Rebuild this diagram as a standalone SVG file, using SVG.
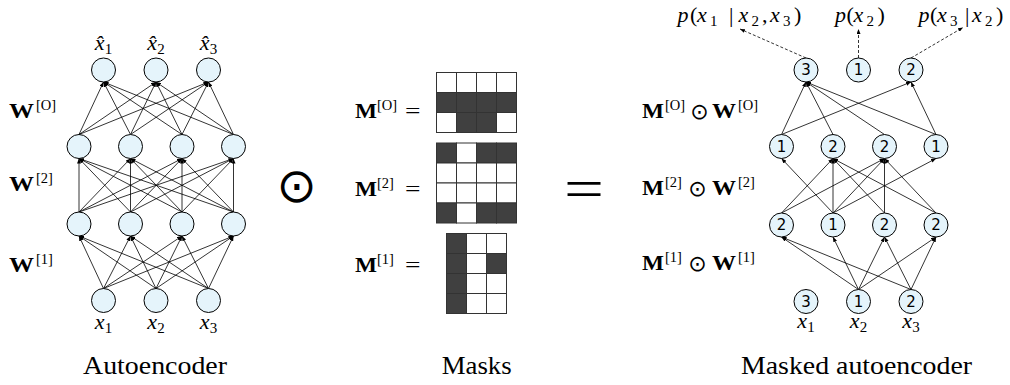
<svg xmlns="http://www.w3.org/2000/svg" width="1010" height="385" viewBox="0 0 1010 385">
<style>
.n{fill:#e5f4fb;stroke:#000;stroke-width:1}
.e{stroke:#000;stroke-width:0.8;fill:none;marker-end:url(#ah)}
.d{stroke:#000;stroke-width:0.8;stroke-dasharray:3 2;fill:none;marker-end:url(#ah)}
.t{font-family:"Liberation Serif","Times New Roman",serif;fill:#000}
.i{font-style:italic}
.b{font-weight:bold}
.num{font-family:"DejaVu Sans",sans-serif;font-size:15px;text-anchor:middle;dominant-baseline:central;fill:#000}
.w{fill:#fff;stroke:#333;stroke-width:1}
.k{fill:#404040;stroke:#333;stroke-width:1}
.op{font-family:"DejaVu Sans",sans-serif;text-anchor:middle;fill:#000}
</style>
<defs>
<marker id="ah" viewBox="0 0 10 8" refX="10" refY="4" markerWidth="5" markerHeight="4" orient="auto" markerUnits="userSpaceOnUse"><path d="M0,0 L10,4 L0,8 z" fill="#000"/></marker>
</defs>

<!-- Connectors -->
<g id="connectors">
<!-- left: input -> hidden1 -->
<line class="e" x1="103.5" y1="288.5" x2="79" y2="236"/>
<line class="e" x1="103.5" y1="288.5" x2="130.5" y2="236"/>
<line class="e" x1="103.5" y1="288.5" x2="182" y2="236"/>
<line class="e" x1="103.5" y1="288.5" x2="233.5" y2="236"/>
<line class="e" x1="156" y1="288.5" x2="79" y2="236"/>
<line class="e" x1="156" y1="288.5" x2="130.5" y2="236"/>
<line class="e" x1="156" y1="288.5" x2="182" y2="236"/>
<line class="e" x1="156" y1="288.5" x2="233.5" y2="236"/>
<line class="e" x1="208.5" y1="288.5" x2="79" y2="236"/>
<line class="e" x1="208.5" y1="288.5" x2="130.5" y2="236"/>
<line class="e" x1="208.5" y1="288.5" x2="182" y2="236"/>
<line class="e" x1="208.5" y1="288.5" x2="233.5" y2="236"/>
<!-- left: hidden1 -> hidden2 -->
<line class="e" x1="79" y1="212" x2="79" y2="158.5"/>
<line class="e" x1="79" y1="212" x2="130.5" y2="158.5"/>
<line class="e" x1="79" y1="212" x2="182" y2="158.5"/>
<line class="e" x1="79" y1="212" x2="233.5" y2="158.5"/>
<line class="e" x1="130.5" y1="212" x2="79" y2="158.5"/>
<line class="e" x1="130.5" y1="212" x2="130.5" y2="158.5"/>
<line class="e" x1="130.5" y1="212" x2="182" y2="158.5"/>
<line class="e" x1="130.5" y1="212" x2="233.5" y2="158.5"/>
<line class="e" x1="182" y1="212" x2="79" y2="158.5"/>
<line class="e" x1="182" y1="212" x2="130.5" y2="158.5"/>
<line class="e" x1="182" y1="212" x2="182" y2="158.5"/>
<line class="e" x1="182" y1="212" x2="233.5" y2="158.5"/>
<line class="e" x1="233.5" y1="212" x2="79" y2="158.5"/>
<line class="e" x1="233.5" y1="212" x2="130.5" y2="158.5"/>
<line class="e" x1="233.5" y1="212" x2="182" y2="158.5"/>
<line class="e" x1="233.5" y1="212" x2="233.5" y2="158.5"/>
<!-- left: hidden2 -> output -->
<line class="e" x1="79" y1="134.5" x2="103.5" y2="82"/>
<line class="e" x1="79" y1="134.5" x2="156" y2="82"/>
<line class="e" x1="79" y1="134.5" x2="208.5" y2="82"/>
<line class="e" x1="130.5" y1="134.5" x2="103.5" y2="82"/>
<line class="e" x1="130.5" y1="134.5" x2="156" y2="82"/>
<line class="e" x1="130.5" y1="134.5" x2="208.5" y2="82"/>
<line class="e" x1="182" y1="134.5" x2="103.5" y2="82"/>
<line class="e" x1="182" y1="134.5" x2="156" y2="82"/>
<line class="e" x1="182" y1="134.5" x2="208.5" y2="82"/>
<line class="e" x1="233.5" y1="134.5" x2="103.5" y2="82"/>
<line class="e" x1="233.5" y1="134.5" x2="156" y2="82"/>
<line class="e" x1="233.5" y1="134.5" x2="208.5" y2="82"/>

<!-- right: input -> hidden1 -->
<line class="e" x1="858.5" y1="289.5" x2="781.5" y2="237"/>
<line class="e" x1="858.5" y1="289.5" x2="833" y2="237"/>
<line class="e" x1="858.5" y1="289.5" x2="884.5" y2="237"/>
<line class="e" x1="858.5" y1="289.5" x2="936" y2="237"/>
<line class="e" x1="911" y1="289.5" x2="781.5" y2="237"/>
<line class="e" x1="911" y1="289.5" x2="884.5" y2="237"/>
<line class="e" x1="911" y1="289.5" x2="936" y2="237"/>
<!-- right: hidden1 -> hidden2 -->
<line class="e" x1="833" y1="213" x2="781.5" y2="158.5"/>
<line class="e" x1="833" y1="213" x2="833" y2="158.5"/>
<line class="e" x1="833" y1="213" x2="884.5" y2="158.5"/>
<line class="e" x1="833" y1="213" x2="936" y2="158.5"/>
<line class="e" x1="781.5" y1="213" x2="833" y2="158.5"/>
<line class="e" x1="781.5" y1="213" x2="884.5" y2="158.5"/>
<line class="e" x1="884.5" y1="213" x2="833" y2="158.5"/>
<line class="e" x1="884.5" y1="213" x2="884.5" y2="158.5"/>
<line class="e" x1="936" y1="213" x2="833" y2="158.5"/>
<line class="e" x1="936" y1="213" x2="884.5" y2="158.5"/>
<!-- right: hidden2 -> output -->
<line class="e" x1="781.5" y1="134.5" x2="806" y2="82"/>
<line class="e" x1="833" y1="134.5" x2="806" y2="82"/>
<line class="e" x1="884.5" y1="134.5" x2="806" y2="82"/>
<line class="e" x1="936" y1="134.5" x2="806" y2="82"/>
<line class="e" x1="781.5" y1="134.5" x2="911" y2="82"/>
<line class="e" x1="936" y1="134.5" x2="911" y2="82"/>
<!-- right: dashed outputs -->
<line class="d" x1="806" y1="58" x2="740" y2="29"/>
<line class="d" x1="858.5" y1="58" x2="858.5" y2="29"/>
<line class="d" x1="911" y1="58" x2="963" y2="27.5"/>
</g>

<!-- Left autoencoder nodes -->
<g id="ae-out1"><circle class="n" cx="103.5" cy="70" r="12"/></g>
<g id="ae-out2"><circle class="n" cx="156" cy="70" r="12"/></g>
<g id="ae-out3"><circle class="n" cx="208.5" cy="70" r="12"/></g>
<g id="ae-h2-1"><circle class="n" cx="79" cy="146.5" r="12"/></g>
<g id="ae-h2-2"><circle class="n" cx="130.5" cy="146.5" r="12"/></g>
<g id="ae-h2-3"><circle class="n" cx="182" cy="146.5" r="12"/></g>
<g id="ae-h2-4"><circle class="n" cx="233.5" cy="146.5" r="12"/></g>
<g id="ae-h1-1"><circle class="n" cx="79" cy="224" r="12"/></g>
<g id="ae-h1-2"><circle class="n" cx="130.5" cy="224" r="12"/></g>
<g id="ae-h1-3"><circle class="n" cx="182" cy="224" r="12"/></g>
<g id="ae-h1-4"><circle class="n" cx="233.5" cy="224" r="12"/></g>
<g id="ae-in1"><circle class="n" cx="103.5" cy="300.5" r="12"/></g>
<g id="ae-in2"><circle class="n" cx="156" cy="300.5" r="12"/></g>
<g id="ae-in3"><circle class="n" cx="208.5" cy="300.5" r="12"/></g>

<!-- Left labels -->
<g id="ae-labels">
<text class="t" x="103.5" y="50" font-size="22" text-anchor="middle"><tspan class="i">x̂</tspan><tspan font-size="15" dy="4">1</tspan></text>
<text class="t" x="156" y="50" font-size="22" text-anchor="middle"><tspan class="i">x̂</tspan><tspan font-size="15" dy="4">2</tspan></text>
<text class="t" x="208.5" y="50" font-size="22" text-anchor="middle"><tspan class="i">x̂</tspan><tspan font-size="15" dy="4">3</tspan></text>
<text class="t" x="103.5" y="329" font-size="22" text-anchor="middle"><tspan class="i">x</tspan><tspan font-size="15" dy="4">1</tspan></text>
<text class="t" x="156" y="329" font-size="22" text-anchor="middle"><tspan class="i">x</tspan><tspan font-size="15" dy="4">2</tspan></text>
<text class="t" x="208.5" y="329" font-size="22" text-anchor="middle"><tspan class="i">x</tspan><tspan font-size="15" dy="4">3</tspan></text>
<text class="t b" x="9" y="118" font-size="20" textLength="25" lengthAdjust="spacingAndGlyphs">W</text>
<text class="t" x="36" y="110" font-size="14.5">[O]</text>
<text class="t b" x="9" y="191" font-size="20" textLength="25" lengthAdjust="spacingAndGlyphs">W</text>
<text class="t" x="36" y="183" font-size="14.5">[2]</text>
<text class="t b" x="9" y="272" font-size="20" textLength="25" lengthAdjust="spacingAndGlyphs">W</text>
<text class="t" x="36" y="264" font-size="14.5">[1]</text>
<text class="t" x="155" y="374" font-size="25" text-anchor="middle" textLength="144" lengthAdjust="spacingAndGlyphs">Autoencoder</text>
</g>

<!-- Hadamard product symbol -->
<g id="odot-big"><text class="op" x="296.7" y="202" font-size="48">⊙</text></g>

<!-- Masks -->
<g id="mask-O">
<text class="t b" x="355" y="118" font-size="20" textLength="22" lengthAdjust="spacingAndGlyphs">M</text>
<text class="t" x="377" y="110" font-size="14.5">[O]</text>
<text class="t" x="405" y="118" font-size="21" textLength="15.5" lengthAdjust="spacingAndGlyphs">=</text>
<rect class="w" x="436.5" y="72.5" width="20" height="20"/>
<rect class="w" x="456.5" y="72.5" width="20" height="20"/>
<rect class="w" x="476.5" y="72.5" width="20" height="20"/>
<rect class="w" x="496.5" y="72.5" width="20" height="20"/>
<rect class="k" x="436.5" y="92.5" width="20" height="20"/>
<rect class="k" x="456.5" y="92.5" width="20" height="20"/>
<rect class="k" x="476.5" y="92.5" width="20" height="20"/>
<rect class="k" x="496.5" y="92.5" width="20" height="20"/>
<rect class="w" x="436.5" y="112.5" width="20" height="20"/>
<rect class="k" x="456.5" y="112.5" width="20" height="20"/>
<rect class="k" x="476.5" y="112.5" width="20" height="20"/>
<rect class="w" x="496.5" y="112.5" width="20" height="20"/>
</g>
<g id="mask-2">
<text class="t b" x="355" y="196" font-size="20" textLength="22" lengthAdjust="spacingAndGlyphs">M</text>
<text class="t" x="377" y="188" font-size="14.5">[2]</text>
<text class="t" x="405" y="196" font-size="21" textLength="15.5" lengthAdjust="spacingAndGlyphs">=</text>
<rect class="k" x="436.5" y="143" width="20" height="20"/>
<rect class="w" x="456.5" y="143" width="20" height="20"/>
<rect class="k" x="476.5" y="143" width="20" height="20"/>
<rect class="k" x="496.5" y="143" width="20" height="20"/>
<rect class="w" x="436.5" y="163" width="20" height="20"/>
<rect class="w" x="456.5" y="163" width="20" height="20"/>
<rect class="w" x="476.5" y="163" width="20" height="20"/>
<rect class="w" x="496.5" y="163" width="20" height="20"/>
<rect class="w" x="436.5" y="183" width="20" height="20"/>
<rect class="w" x="456.5" y="183" width="20" height="20"/>
<rect class="w" x="476.5" y="183" width="20" height="20"/>
<rect class="w" x="496.5" y="183" width="20" height="20"/>
<rect class="k" x="436.5" y="203" width="20" height="20"/>
<rect class="w" x="456.5" y="203" width="20" height="20"/>
<rect class="k" x="476.5" y="203" width="20" height="20"/>
<rect class="k" x="496.5" y="203" width="20" height="20"/>
</g>
<g id="mask-1">
<text class="t b" x="355" y="272" font-size="20" textLength="22" lengthAdjust="spacingAndGlyphs">M</text>
<text class="t" x="377" y="264" font-size="14.5">[1]</text>
<text class="t" x="405" y="272" font-size="21" textLength="15.5" lengthAdjust="spacingAndGlyphs">=</text>
<rect class="k" x="446.5" y="233.5" width="20" height="20"/>
<rect class="w" x="466.5" y="233.5" width="20" height="20"/>
<rect class="w" x="486.5" y="233.5" width="20" height="20"/>
<rect class="k" x="446.5" y="253.5" width="20" height="20"/>
<rect class="w" x="466.5" y="253.5" width="20" height="20"/>
<rect class="k" x="486.5" y="253.5" width="20" height="20"/>
<rect class="k" x="446.5" y="273.5" width="20" height="20"/>
<rect class="w" x="466.5" y="273.5" width="20" height="20"/>
<rect class="w" x="486.5" y="273.5" width="20" height="20"/>
<rect class="k" x="446.5" y="293.5" width="20" height="20"/>
<rect class="w" x="466.5" y="293.5" width="20" height="20"/>
<rect class="w" x="486.5" y="293.5" width="20" height="20"/>
</g>
<text class="t" x="476.7" y="374" font-size="25" text-anchor="middle" textLength="70" lengthAdjust="spacingAndGlyphs">Masks</text>

<!-- Equals sign -->
<g id="equals-big"><text class="t" x="564" y="208" font-size="56" textLength="40" lengthAdjust="spacingAndGlyphs">=</text></g>

<!-- Right: masked autoencoder nodes -->
<g id="made-out1"><circle class="n" cx="806" cy="70" r="12"/><text class="num" x="806" y="70">3</text></g>
<g id="made-out2"><circle class="n" cx="858.5" cy="70" r="12"/><text class="num" x="858.5" y="70">1</text></g>
<g id="made-out3"><circle class="n" cx="911" cy="70" r="12"/><text class="num" x="911" y="70">2</text></g>
<g id="made-h2-1"><circle class="n" cx="781.5" cy="146.5" r="12"/><text class="num" x="781.5" y="146.5">1</text></g>
<g id="made-h2-2"><circle class="n" cx="833" cy="146.5" r="12"/><text class="num" x="833" y="146.5">2</text></g>
<g id="made-h2-3"><circle class="n" cx="884.5" cy="146.5" r="12"/><text class="num" x="884.5" y="146.5">2</text></g>
<g id="made-h2-4"><circle class="n" cx="936" cy="146.5" r="12"/><text class="num" x="936" y="146.5">1</text></g>
<g id="made-h1-1"><circle class="n" cx="781.5" cy="225" r="12"/><text class="num" x="781.5" y="225">2</text></g>
<g id="made-h1-2"><circle class="n" cx="833" cy="225" r="12"/><text class="num" x="833" y="225">1</text></g>
<g id="made-h1-3"><circle class="n" cx="884.5" cy="225" r="12"/><text class="num" x="884.5" y="225">2</text></g>
<g id="made-h1-4"><circle class="n" cx="936" cy="225" r="12"/><text class="num" x="936" y="225">2</text></g>
<g id="made-in1"><circle class="n" cx="806" cy="301.5" r="12"/><text class="num" x="806" y="301.5">3</text></g>
<g id="made-in2"><circle class="n" cx="858.5" cy="301.5" r="12"/><text class="num" x="858.5" y="301.5">1</text></g>
<g id="made-in3"><circle class="n" cx="911" cy="301.5" r="12"/><text class="num" x="911" y="301.5">2</text></g>

<!-- Right labels -->
<g id="made-labels">
<text class="t" y="22" font-size="22"><tspan class="i" x="677.5">p</tspan><tspan x="690">(</tspan><tspan class="i" x="697">x</tspan><tspan x="710" y="26" font-size="15">1</tspan><tspan x="729" y="22">|</tspan><tspan class="i" x="738.5">x</tspan><tspan x="751.5" y="26" font-size="15">2</tspan><tspan x="762" y="22">,</tspan><tspan class="i" x="770">x</tspan><tspan x="783" y="26" font-size="15">3</tspan><tspan x="794" y="22">)</tspan></text>
<text class="t" y="22" font-size="22"><tspan class="i" x="835">p</tspan><tspan x="846.5">(</tspan><tspan class="i" x="853.5">x</tspan><tspan x="866.5" y="26" font-size="15">2</tspan><tspan x="877.5" y="22">)</tspan></text>
<text class="t" y="22" font-size="22"><tspan class="i" x="918.5">p</tspan><tspan x="930">(</tspan><tspan class="i" x="937">x</tspan><tspan x="950" y="26" font-size="15">3</tspan><tspan x="965" y="22">|</tspan><tspan class="i" x="972">x</tspan><tspan x="985" y="26" font-size="15">2</tspan><tspan x="996" y="22">)</tspan></text>

<text class="t b" x="642" y="118" font-size="20" textLength="22" lengthAdjust="spacingAndGlyphs">M</text>
<text class="t" x="665" y="110" font-size="14.5">[O]</text>
<text class="op" x="699.5" y="119" font-size="22">⊙</text>
<text class="t b" x="712" y="118" font-size="20" textLength="24" lengthAdjust="spacingAndGlyphs">W</text>
<text class="t" x="738" y="110" font-size="14.5">[O]</text>

<text class="t b" x="642" y="195" font-size="20" textLength="22" lengthAdjust="spacingAndGlyphs">M</text>
<text class="t" x="665" y="187" font-size="14.5">[2]</text>
<text class="op" x="697.5" y="196" font-size="22">⊙</text>
<text class="t b" x="712" y="195" font-size="20" textLength="24" lengthAdjust="spacingAndGlyphs">W</text>
<text class="t" x="738" y="187" font-size="14.5">[2]</text>

<text class="t b" x="642" y="270" font-size="20" textLength="22" lengthAdjust="spacingAndGlyphs">M</text>
<text class="t" x="665" y="262" font-size="14.5">[1]</text>
<text class="op" x="697.5" y="271" font-size="22">⊙</text>
<text class="t b" x="712" y="270" font-size="20" textLength="24" lengthAdjust="spacingAndGlyphs">W</text>
<text class="t" x="738" y="262" font-size="14.5">[1]</text>

<text class="t" x="806" y="328" font-size="22" text-anchor="middle"><tspan class="i">x</tspan><tspan font-size="15" dy="4">1</tspan></text>
<text class="t" x="858.5" y="328" font-size="22" text-anchor="middle"><tspan class="i">x</tspan><tspan font-size="15" dy="4">2</tspan></text>
<text class="t" x="911" y="328" font-size="22" text-anchor="middle"><tspan class="i">x</tspan><tspan font-size="15" dy="4">3</tspan></text>
<text class="t" x="856.5" y="374" font-size="25" text-anchor="middle" textLength="231" lengthAdjust="spacingAndGlyphs">Masked autoencoder</text>
</g>
</svg>
